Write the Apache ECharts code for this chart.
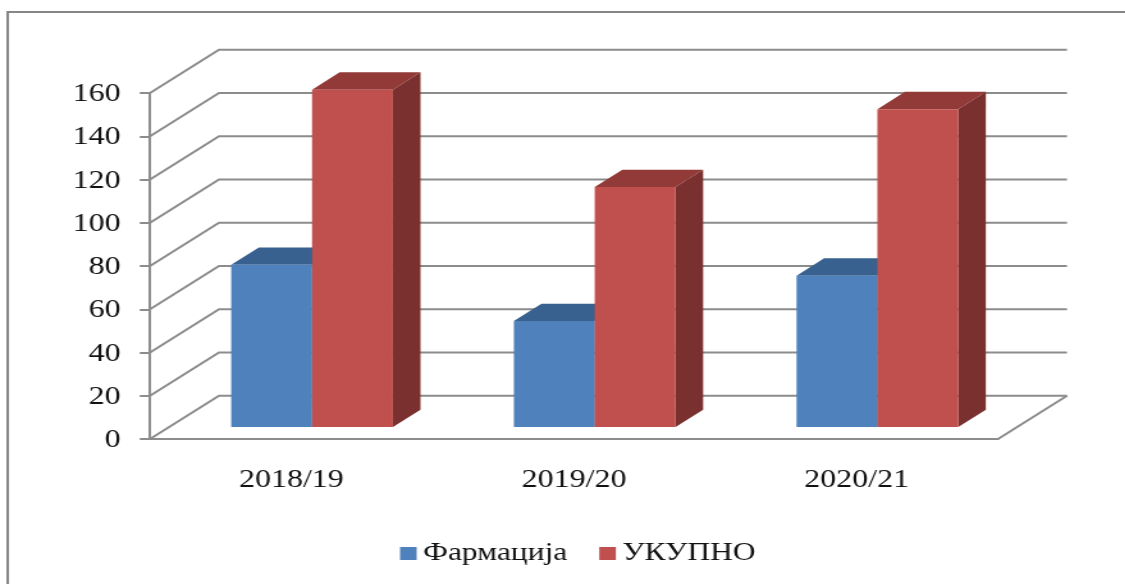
<!DOCTYPE html>
<html>
<head>
<meta charset="utf-8">
<title>Фармација</title>
<style>
  html, body { margin: 0; background: #fff; overflow: hidden; }
  /* the source picture is a stretched screenshot, so the whole chart gets stretched too */
  #chart { width: 879px; height: 584px; transform: scaleX(1.28); transform-origin: 0 0; filter: blur(0.5px); }
</style>
<script src="https://cdn.jsdelivr.net/npm/echarts@6/dist/echarts.min.js"></script>
</head>
<body>
<div id="chart"></div>
<script>
const categories = ['2018/19', '2019/20', '2020/21']
const farmacija = [75, 49, 70]
const ukupno = [156, 111, 147]
const yTicks = [0, 20, 40, 60, 80, 100, 120, 140, 160]

const FONT = '"Liberation Serif", "Times New Roman", serif'
const LINE = '#8c8c8c'

// depth of the floor: one y interval up, about a quarter of a category across
const depth = api => ({ x: api.size([1, 0])[0] * 0.244, y: api.size([0, 20])[1] })

const renderWall = (params, api) => {
  const y = api.coord([0, api.value(1)])[1]
  const { x, width } = params.coordSys
  const d = depth(api)
  const children = [{
    type: 'polyline',
    shape: { points: [[x, y], [x + d.x, y - d.y], [x + width + d.x, y - d.y]] },
    style: { fill: null, stroke: LINE, lineWidth: 2 }
  }]
  if (api.value(1) === 0) {
    children.push({
      type: 'line',
      shape: { x1: x + width, y1: y, x2: x + width + d.x, y2: y - d.y },
      style: { stroke: LINE, lineWidth: 2 }
    })
  }
  return { type: 'group', children }
}

// side 0 = left bar of the group, side 1 = right bar
const makeBar = (side, front, top, right) => (params, api) => {
  const d = depth(api)
  const i = api.value(0)
  const bandW = api.size([1, 0])[0]
  const barW = bandW * 0.286
  const shiftX = d.x * 0.3
  const shiftY = d.y * 0.277
  const thickX = d.x * 0.4
  const thickY = d.y * 0.4
  const x0 = api.coord([i, 0])[0] + shiftX - barW + side * barW
  const x1 = x0 + barW
  const y0 = api.coord([i, 0])[1] - shiftY
  const y1 = api.coord([i, api.value(1)])[1] - shiftY
  const poly = (points, fill) => ({ type: 'polygon', shape: { points }, style: { fill } })
  return {
    type: 'group',
    children: [
      poly([[x1, y0], [x1 + thickX, y0 - thickY], [x1 + thickX, y1 - thickY], [x1, y1]], right),
      poly([[x0, y1], [x0 + thickX, y1 - thickY], [x1 + thickX, y1 - thickY], [x1, y1]], top),
      poly([[x0, y0], [x1, y0], [x1, y1], [x0, y1]], front)
    ]
  }
}

const chart = echarts.init(document.getElementById('chart'))
chart.setOption({
  animation: false,
  backgroundColor: '#fff',
  grid: { left: 117.2, right: 99.3, top: 93, bottom: 145 },
  legend: {
    data: ['Фармација', 'УКУПНО'],
    left: 312.5,
    top: 541,
    padding: 0,
    icon: 'rect',
    itemWidth: 13,
    itemHeight: 13,
    itemGap: 25,
    textStyle: { fontFamily: FONT, fontSize: 24.6, color: '#111' }
  },
  graphic: [{
    type: 'rect',
    shape: { x: 6, y: 12, width: 1000, height: 700 },
    style: { fill: null, stroke: '#868686', lineWidth: 2 },
    silent: true
  }],
  xAxis: {
    type: 'category',
    data: categories,
    axisLine: { lineStyle: { color: LINE, width: 2 } },
    axisTick: { length: 8, lineStyle: { color: LINE, width: 2 } },
    axisLabel: { margin: 29, fontFamily: FONT, fontSize: 25, color: '#111' }
  },
  yAxis: {
    type: 'value',
    min: 0,
    max: 160,
    interval: 20,
    splitLine: { show: false },
    axisLine: { show: true, lineStyle: { color: LINE, width: 2 } },
    axisTick: { show: true, length: 8, lineStyle: { color: LINE, width: 2 } },
    axisLabel: {
      margin: 23,
      formatter: '{n|{value}}',
      rich: { n: { padding: [3, 0, 0, 0], fontFamily: FONT, fontSize: 25, color: '#111' } }
    }
  },
  series: [
    {
      type: 'custom',
      renderItem: renderWall,
      silent: true,
      data: yTicks.map(v => [0, v])
    },
    {
      name: 'Фармација',
      type: 'custom',
      renderItem: makeBar(0, '#4f81bd', '#38618f', '#2f5580'),
      itemStyle: { color: '#4f81bd' },
      data: farmacija.map((v, i) => [i, v])
    },
    {
      name: 'УКУПНО',
      type: 'custom',
      renderItem: makeBar(1, '#c0504d', '#923a38', '#7a302e'),
      itemStyle: { color: '#c0504d' },
      data: ukupno.map((v, i) => [i, v])
    }
  ]
})
</script>
</body>
</html>
